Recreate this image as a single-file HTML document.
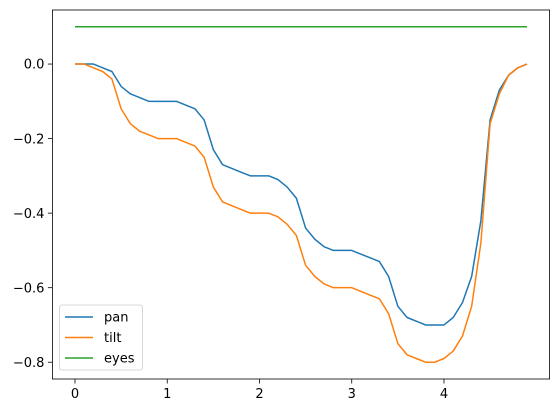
<!DOCTYPE html>
<html><head><meta charset="utf-8"><style>
html,body{margin:0;padding:0;background:#fff;}
svg{display:block;font-family:"DejaVu Sans","Liberation Sans",sans-serif;}
</style></head><body>
<svg id="chart" width="559" height="413"></svg>
<script>
const xs = [0,0.1,0.2,0.3,0.4,0.5,0.6,0.7,0.8,0.9,1.0,1.1,1.2,1.3,1.4,1.5,1.6,1.7,1.8,1.9,2.0,2.1,2.2,2.3,2.4,2.5,2.6,2.7,2.8,2.9,3.0,3.1,3.2,3.3,3.4,3.5,3.6,3.7,3.8,3.9,4.0,4.1,4.2,4.3,4.4,4.5,4.6,4.7,4.8,4.9];
const pan = [0,0,0,-0.01,-0.02,-0.06,-0.08,-0.09,-0.1,-0.1,-0.1,-0.1,-0.11,-0.12,-0.15,-0.23,-0.27,-0.28,-0.29,-0.3,-0.3,-0.3,-0.31,-0.33,-0.36,-0.44,-0.47,-0.49,-0.5,-0.5,-0.5,-0.51,-0.52,-0.53,-0.57,-0.65,-0.68,-0.69,-0.7,-0.7,-0.7,-0.68,-0.64,-0.57,-0.42,-0.15,-0.07,-0.03,-0.01,0];
const tilt = [0,0,-0.01,-0.02,-0.04,-0.12,-0.16,-0.18,-0.19,-0.2,-0.2,-0.2,-0.21,-0.22,-0.25,-0.33,-0.37,-0.38,-0.39,-0.4,-0.4,-0.4,-0.41,-0.43,-0.46,-0.54,-0.57,-0.59,-0.6,-0.6,-0.6,-0.61,-0.62,-0.63,-0.67,-0.75,-0.78,-0.79,-0.8,-0.8,-0.79,-0.77,-0.73,-0.65,-0.48,-0.16,-0.08,-0.03,-0.01,0];
const eyes = [0.1,0.1,0.1,0.1,0.1,0.1,0.1,0.1,0.1,0.1,0.1,0.1,0.1,0.1,0.1,0.1,0.1,0.1,0.1,0.1,0.1,0.1,0.1,0.1,0.1,0.1,0.1,0.1,0.1,0.1,0.1,0.1,0.1,0.1,0.1,0.1,0.1,0.1,0.1,0.1,0.1,0.1,0.1,0.1,0.1,0.1,0.1,0.1,0.1,0.1];
const xTicks = [0,1,2,3,4];
const yTicks = [0.0,-0.2,-0.4,-0.6,-0.8];
const seriesNames = ["pan","tilt","eyes"];

const NS="http://www.w3.org/2000/svg";
const svg=document.getElementById('chart');
const L=52.4,R=549.6,T=10,B=379;
const xmin=-0.245,xmax=5.145,ymin=-0.845,ymax=0.145;
const sx=v=>L+(v-xmin)/(xmax-xmin)*(R-L);
const sy=v=>B-(v-ymin)/(ymax-ymin)*(B-T);
function mk(tag,attrs){const e=document.createElementNS(NS,tag);for(const k in attrs)e.setAttribute(k,attrs[k]);svg.appendChild(e);return e;}

const colors=["#1f77b4","#ff7f0e","#2ca02c"];
const data=[pan,tilt,eyes];
data.forEach((s,i)=>{
  const p=mk('polyline',{points:s.map((v,j)=>sx(xs[j]).toFixed(2)+','+sy(v).toFixed(2)).join(' '),fill:'none',stroke:colors[i],'stroke-width':1.5,'stroke-linejoin':'round'});
  
  
});

const frame=mk('rect',{x:L,y:T,width:R-L,height:B-T,fill:'none',stroke:'#000','stroke-width':0.8});



xTicks.forEach(t=>{
  const x=sx(t);
  const tk=mk('line',{x1:x,x2:x,y1:B,y2:B+4.5,stroke:'#000','stroke-width':0.8});
  
  
  const tx=mk('text',{x:x,y:B+19,'text-anchor':'middle','font-size':13,fill:'#000'});
  tx.textContent=String(t);
  
  
});
yTicks.forEach(t=>{
  const y=sy(t);
  const tk=mk('line',{x1:L-4.5,x2:L,y1:y,y2:y,stroke:'#000','stroke-width':0.8});
  
  
  const tx=mk('text',{x:L-8,y:y+4.7,'text-anchor':'end','font-size':13,fill:'#000'});
  tx.textContent=(t<0?'\u2212':'')+Math.abs(t).toFixed(1);
  
  
});

const lg=mk('rect',{x:59.5,y:305,width:83,height:65,rx:2.5,fill:'#fff','fill-opacity':0.8,stroke:'#ccc','stroke-width':0.8});


seriesNames.forEach((n,i)=>{
  const y=317+i*20.5;
  const ln=mk('line',{x1:65,x2:93,y1:y,y2:y,stroke:colors[i],'stroke-width':1.5});
  
  
  const tx=mk('text',{x:104,y:y+4.7,'font-size':13,fill:'#000'});
  tx.textContent=n;
  
  
});
</script>
</body></html>
